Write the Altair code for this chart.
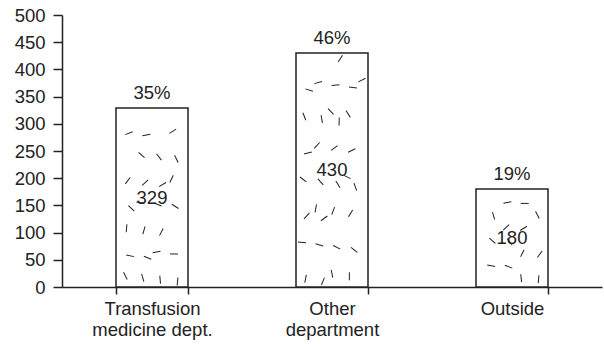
import altair as alt
import pandas as pd

# Source of requests
categories = ["Transfusion medicine dept.", "Other department", "Outside"]
counts = [329, 430, 180]

total = sum(counts)
bars = pd.DataFrame({
    "category": categories,
    "count": counts,
    "half": [c / 2 for c in counts],
    "pct": [f"{round(100 * c / total)}%" for c in counts],
})

# Speckle texture: short dashes spread over each bar with a low-discrepancy sequence.
# Horizontal position is in band units: bar i spans i + 0.5 +/- 0.2.
a1, a2 = 0.7548776662, 0.5698402910
rows = []
for i, c in enumerate(counts):
    n = max(6, round(c / 13))
    for k in range(n):
        u = (0.31 + i * 0.17 + k * a1) % 1.0
        v = (0.47 + i * 0.29 + k * a2) % 1.0
        rows.append({
            "pos": i + 0.5 + (2 * u - 1) * 0.17,
            "y": 8 + (c - 16) * v,
            "angle": (k * 53 + i * 37 + 10) % 180,
        })
dashes = pd.DataFrame(rows)

FONT = "Liberation Sans"
INK = "#222222"
FS = 18.5

y_scale = alt.Scale(domain=[0, 500], nice=False)
y_axis = alt.Axis(
    title=None,
    values=list(range(0, 501, 50)),
    labelOverlap=False,
    grid=False,
    tickSize=9,
    labelPadding=8,
)
x_enc = alt.X(
    "category:N",
    sort=categories,
    scale=alt.Scale(paddingInner=0.6, paddingOuter=0.3),
    axis=alt.Axis(
        title=None,
        labelAngle=0,
        tickBand="extent",
        tickSize=7,
        labelPadding=5,
        labelLineHeight=21,
        labelBaseline="top",
        labelExpr="datum.label == 'Transfusion medicine dept.' ? ['Transfusion', 'medicine dept.'] : datum.label == 'Other department' ? ['Other', 'department'] : datum.label",
    ),
)

base = alt.Chart(bars).encode(x=x_enc)

bar_layer = base.mark_bar(fill="white", stroke=INK, strokeWidth=1.5).encode(
    y=alt.Y("count:Q", scale=y_scale, axis=y_axis),
)

value_layer = base.mark_text(
    font=FONT, fontSize=FS, color=INK, baseline="middle"
).encode(
    y=alt.Y("half:Q", scale=y_scale, axis=y_axis),
    text="count:Q",
)

pct_layer = base.mark_text(
    font=FONT, fontSize=FS, color=INK, baseline="middle", dy=-15
).encode(
    y=alt.Y("count:Q", scale=y_scale, axis=y_axis),
    text="pct:N",
)

dash_layer = alt.Chart(dashes).mark_point(
    shape="M-1,0L1,0", size=64, filled=False, stroke=INK, strokeWidth=1, opacity=1
).encode(
    x=alt.X("pos:Q", scale=alt.Scale(domain=[0, 3], nice=False, zero=False), axis=None),
    y=alt.Y("y:Q", scale=y_scale, axis=y_axis),
    angle=alt.Angle("angle:Q", scale=None),
)

bars_and_text = alt.layer(bar_layer, value_layer, pct_layer)

chart = alt.layer(bars_and_text, dash_layer).resolve_scale(
    x="independent"
).properties(
    width=540,
    height=272,
    background="white",
    autosize=alt.AutoSizeParams(type="none"),
    padding={"left": 62, "top": 15, "right": 2, "bottom": 57},
).configure_view(
    strokeWidth=0
).configure_axis(
    labelFont=FONT,
    labelFontSize=FS,
    labelColor=INK,
    domainColor=INK,
    tickColor=INK,
    domainWidth=1.5,
    tickWidth=1.5,
)

chart.save("out.html", embed_options={"renderer": "svg", "actions": False})
